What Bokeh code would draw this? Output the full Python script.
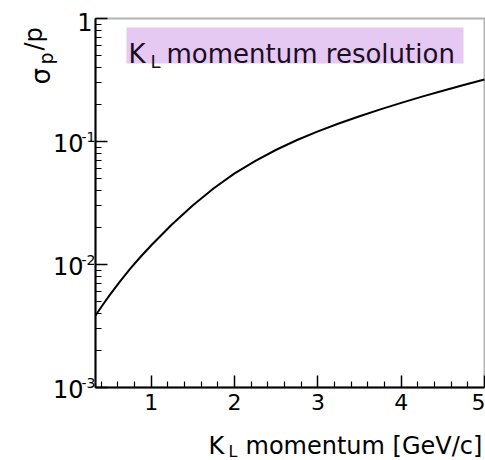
import numpy as np
from bokeh.plotting import figure
from bokeh.models import (Range1d, FixedTicker, LogTicker, Label, BoxAnnotation,
                          ColumnDataSource, LinearAxis, LogAxis)
from bokeh.embed import file_html
from bokeh.resources import INLINE

# ---- data ----
momentum = [0.33, 0.42, 0.5, 0.62, 0.75, 0.88, 1.0, 1.25, 1.5, 1.75, 2.0, 2.25,
            2.5, 2.75, 3.0, 3.25, 3.5, 3.75, 4.0, 4.25, 4.5, 4.75, 5.0]
resolution = [0.00385, 0.00473, 0.00564, 0.00723, 0.00929, 0.01172, 0.01435,
              0.02123, 0.03034, 0.04169, 0.0550, 0.0697, 0.0857, 0.1028, 0.1208,
              0.1400, 0.1603, 0.1824, 0.2061, 0.2317, 0.2588, 0.2877, 0.3192]

x_ticks = [1, 2, 3, 4, 5]
x_tick_labels = ["1", "2", "3", "4", "5"]
x_minor_ticks = [0.4, 0.6, 0.8, 1.2, 1.4, 1.6, 1.8, 2.2, 2.4, 2.6, 2.8,
                 3.2, 3.4, 3.6, 3.8, 4.2, 4.4, 4.6, 4.8]
y_ticks = [0.001, 0.01, 0.1, 1.0]
y_tick_bases = ["10", "10", "10", "1"]
y_tick_exps = ["-3", "-2", "-1", ""]

title_main, title_sub, title_rest = "K", "L", "momentum resolution"
xlab_main, xlab_sub, xlab_rest = "K", "L", "momentum [GeV/c]"
ylab_main, ylab_sub, ylab_rest = "\u03c3", "p", "/p"

# ---- layout (pixel box of the plotting area inside the canvas) ----
W, H = 485, 460
BL, BR, BT, BB = 95, 1, 18, 73
X0, X1 = 0.33, 5.0
Y0, Y1 = 1e-3, 1.0
FW, FH = W - BL - BR, H - BT - BB
FONT = "DejaVu Sans"
TXT = "#1b0e24"


def fx(px):
    return X0 + (px - BL) * (X1 - X0) / FW


def fy(py):
    return 10 ** (np.log10(Y1) - (py - BT) * (np.log10(Y1) - np.log10(Y0)) / FH)


p = figure(width=W, height=H, x_range=Range1d(fx(0), fx(W)), y_range=Range1d(fy(H), fy(0)),
           y_axis_type="log", x_axis_location=None, y_axis_location=None,
           output_backend="svg", toolbar_location=None,
           min_border_left=0, min_border_right=0, min_border_top=0, min_border_bottom=0)
p.min_border = 0
p.background_fill_color = "white"
p.border_fill_color = "white"
p.outline_line_color = None
p.xgrid.visible = False
p.ygrid.visible = False

# plotting-area frame
p.add_layout(BoxAnnotation(left=X0, right=X1, bottom=Y0, top=Y1, fill_alpha=0,
                           line_color="black", line_width=2))

src = ColumnDataSource(dict(x=momentum, y=resolution))
p.line("x", "y", source=src, line_color="black", line_width=2)

# x axis
xa = LinearAxis(fixed_location=Y0, bounds=(X0, X1),
                ticker=FixedTicker(ticks=x_ticks, minor_ticks=x_minor_ticks))
xa.major_label_overrides = {t: l for t, l in zip(x_ticks, x_tick_labels)}
xa.major_tick_in = 12
xa.major_tick_out = 0
xa.minor_tick_in = 6
xa.minor_tick_out = 0
xa.axis_line_width = 2
xa.major_tick_line_width = 1.5
xa.minor_tick_line_width = 1.2
xa.major_label_text_font = FONT
xa.major_label_text_font_size = "22px"
xa.major_label_text_color = "black"
xa.major_label_standoff = 6
p.add_layout(xa, "below")

# y axis
ya = LogAxis(fixed_location=X0, bounds=(Y0, Y1), ticker=LogTicker(num_minor_ticks=10))
ya.major_tick_in = 12
ya.major_tick_out = 0
ya.minor_tick_in = 6
ya.minor_tick_out = 0
ya.axis_line_width = 2
ya.major_tick_line_width = 1.5
ya.minor_tick_line_width = 1.2
ya.major_label_text_color = None
p.add_layout(ya, "left")

# y tick labels (10 with superscript exponent)
for t, b, e in zip(y_ticks, y_tick_bases, y_tick_exps):
    if e:
        p.add_layout(Label(x=fx(83), y=t, y_offset=-1.5, text=b, text_font=FONT,
                           text_font_size="24px", text_align="right",
                           text_baseline="middle", text_color="black"))
        p.add_layout(Label(x=fx(81), y=t, y_offset=5, text=e, text_font=FONT,
                           text_font_size="14px", text_align="left",
                           text_baseline="middle", text_color="black"))
    else:
        p.add_layout(Label(x=fx(92), y=t, y_offset=-3.5, text=b, text_font=FONT,
                           text_font_size="24px", text_align="right",
                           text_baseline="middle", text_color="black"))

# title box
p.add_layout(BoxAnnotation(left=fx(126), right=fx(463), top=fy(27), bottom=fy(63),
                           fill_color="#e6c9f2", fill_alpha=1.0, line_color=None))
p.add_layout(Label(x=fx(128), y=fy(53), text=title_main, text_font=FONT,
                   text_font_size="26px", text_color=TXT, text_baseline="alphabetic"))
p.add_layout(Label(x=fx(150), y=fy(61), text=title_sub, text_font=FONT,
                   text_font_size="18px", text_color=TXT, text_baseline="alphabetic"))
p.add_layout(Label(x=fx(166), y=fy(53), text=title_rest, text_font=FONT,
                   text_font_size="26px", text_color=TXT, text_baseline="alphabetic"))

# x axis title
p.add_layout(Label(x=fx(208), y=fy(445), text=xlab_main, text_font=FONT,
                   text_font_size="24px", text_color="black", text_baseline="alphabetic"))
p.add_layout(Label(x=fx(228), y=fy(451), text=xlab_sub, text_font=FONT,
                   text_font_size="16px", text_color="black", text_baseline="alphabetic"))
p.add_layout(Label(x=fx(245), y=fy(445), text=xlab_rest, text_font=FONT,
                   text_font_size="24px", text_color="black", text_baseline="alphabetic"))

# y axis title (rotated)
p.add_layout(Label(x=fx(40), y=fy(84), text=ylab_main, text_font=FONT, angle=np.pi / 2,
                   text_font_size="26px", text_color="black", text_baseline="alphabetic"))
p.add_layout(Label(x=fx(45), y=fy(64), text=ylab_sub, text_font=FONT, angle=np.pi / 2,
                   text_font_size="19px", text_color="black", text_baseline="alphabetic"))
p.add_layout(Label(x=fx(33), y=fy(50), text=ylab_rest, text_font=FONT, angle=np.pi / 2,
                   text_font_size="24px", text_color="black", text_baseline="alphabetic"))

open("out.html", "w").write(file_html(p, INLINE))
